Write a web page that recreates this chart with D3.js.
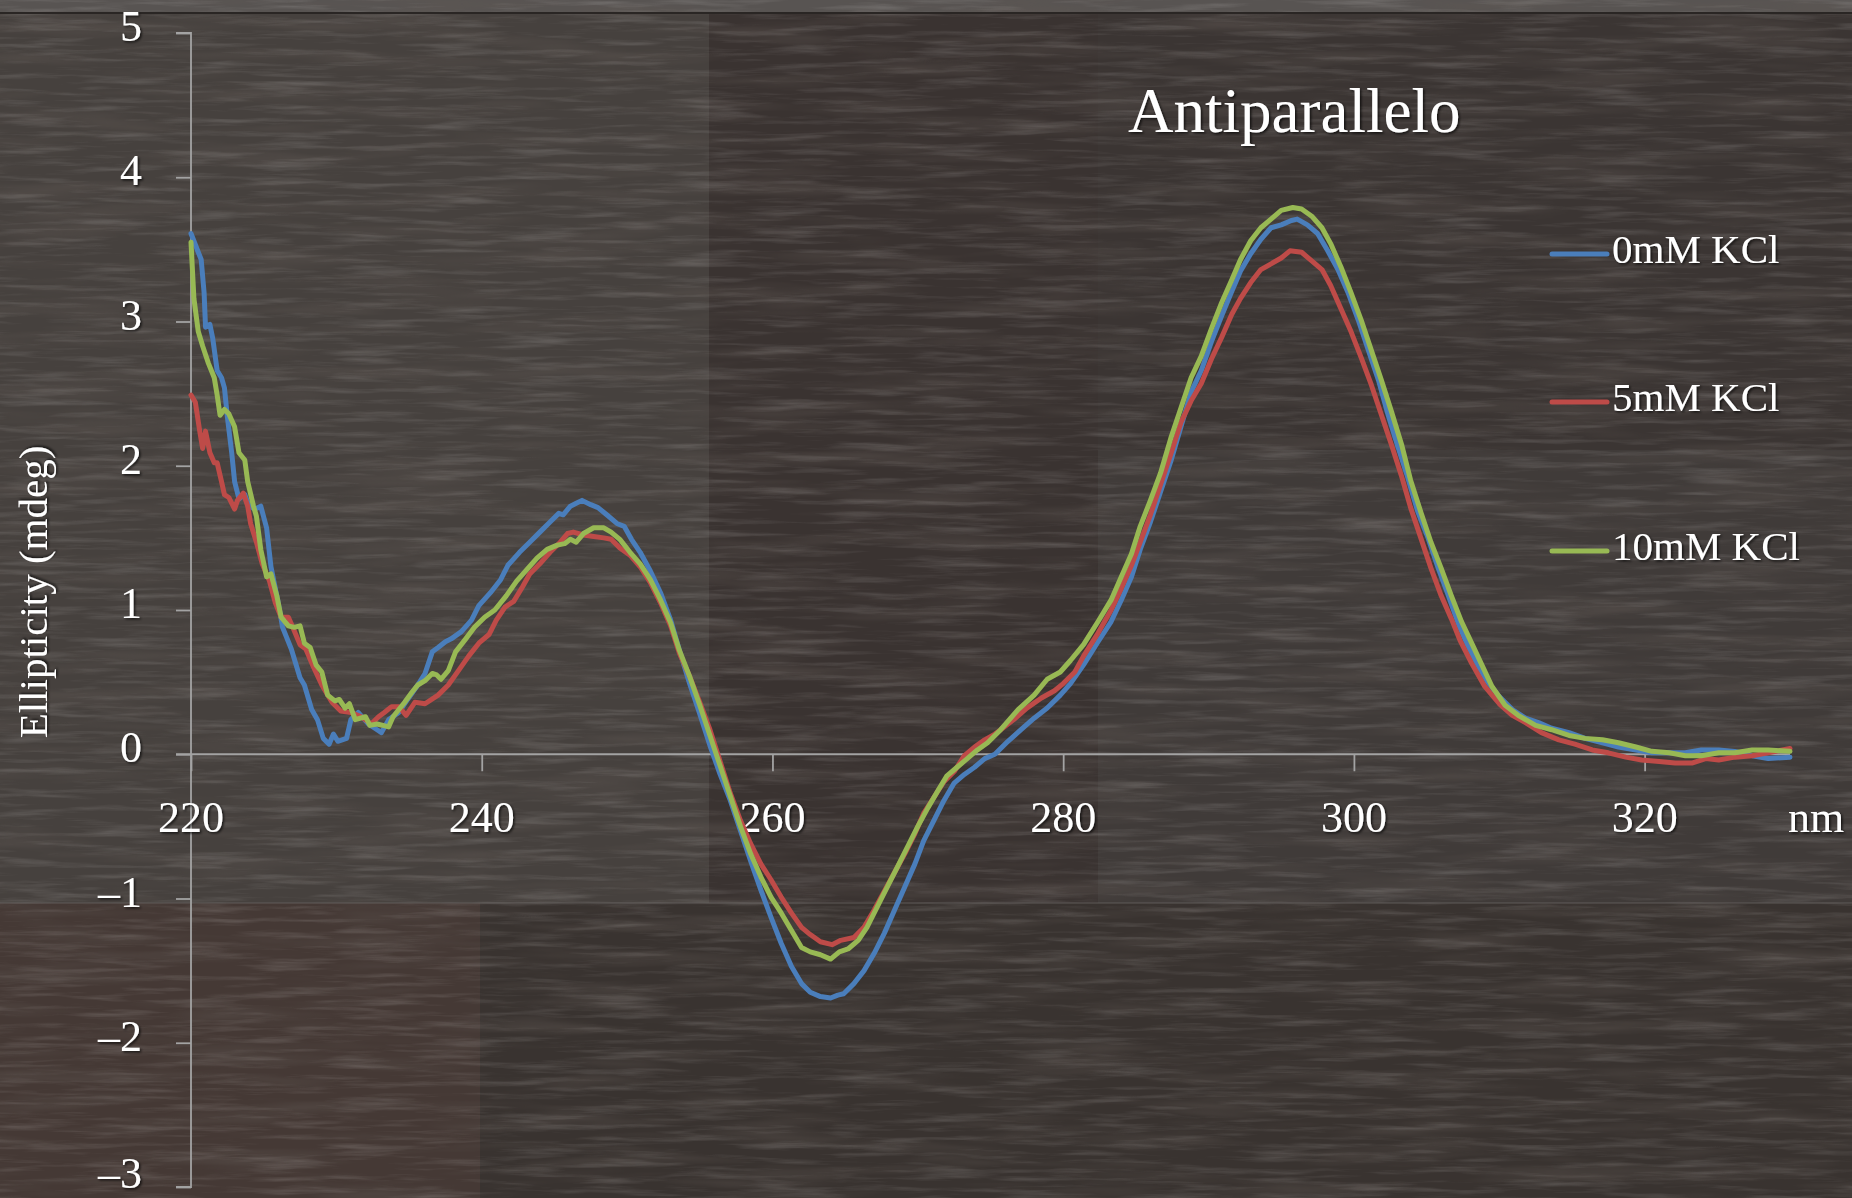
<!DOCTYPE html>
<html>
<head>
<meta charset="utf-8">
<script src="https://cdn.jsdelivr.net/npm/d3@7/dist/d3.min.js"></script>
<style>
  html, body { margin: 0; padding: 0; background: #3e3936; }
  svg { display: block; }
  text { font-family: "Liberation Serif", "DejaVu Serif", serif; fill: #ffffff; }
</style>
</head>
<body>
<svg id="chart" width="1852" height="1198"></svg>
<script>
// ---------------- DATA ----------------
const title = "Antiparallelo";
const yTitle = "Ellipticity (mdeg)";
const xUnit = "nm";
const xTicks = [220, 240, 260, 280, 300, 320];
const yTicks = [-3, -2, -1, 0, 1, 2, 3, 4, 5];
const seriesNames = ["0mM KCl", "5mM KCl", "10mM KCl"];
const seriesColors = ["#4A7EBB", "#BE4B48", "#98B954"];

// [wavelength nm, ellipticity mdeg]
const kcl0 = [
[220.0,3.61],[220.5,3.48],[220.7,3.43],[220.9,3.20],[221.0,2.96],[221.3,2.98],[221.5,2.88],[221.8,2.66],
[222.1,2.61],[222.3,2.54],[222.5,2.34],[222.8,2.09],[223.0,1.89],[223.3,1.77],[223.7,1.80],[224.0,1.72],
[224.4,1.70],[224.8,1.72],[225.2,1.57],[225.5,1.30],[226.0,1.05],[226.3,0.88],[226.9,0.73],[227.5,0.53],
[227.8,0.48],[228.3,0.31],[228.7,0.24],[229.1,0.11],[229.5,0.07],[229.8,0.14],[230.1,0.09],[230.7,0.11],
[231.0,0.24],[231.5,0.29],[232.2,0.21],[232.8,0.17],[233.1,0.15],[233.6,0.24],[234.3,0.29],[234.9,0.38],
[235.6,0.48],[236.1,0.56],[236.6,0.71],[237.0,0.74],[237.5,0.78],[237.9,0.80],[238.6,0.85],[239.3,0.93],
[239.8,1.03],[240.6,1.12],[241.3,1.21],[241.8,1.31],[242.6,1.40],[243.3,1.47],[244.0,1.54],[244.7,1.61],
[245.3,1.67],[245.6,1.66],[246.1,1.72],[246.5,1.74],[246.9,1.76],[247.5,1.73],[248.0,1.71],[248.6,1.66],
[249.3,1.60],[249.8,1.58],[250.3,1.49],[250.9,1.40],[251.6,1.27],[252.3,1.12],[253.0,0.93],[253.6,0.72],
[254.3,0.49],[255.0,0.28],[255.7,0.06],[256.4,-0.14],[257.1,-0.32],[257.8,-0.53],[258.5,-0.74],[259.2,-0.94],
[259.9,-1.13],[260.6,-1.31],[261.3,-1.47],[262.0,-1.59],[262.6,-1.65],[263.3,-1.68],[264.0,-1.69],[264.5,-1.67],
[264.9,-1.66],[265.6,-1.59],[266.3,-1.50],[267.0,-1.38],[267.7,-1.24],[268.4,-1.08],[269.1,-0.92],[269.8,-0.76],
[270.4,-0.60],[271.1,-0.46],[271.8,-0.32],[272.5,-0.20],[273.2,-0.14],[273.9,-0.09],[274.6,-0.03],[275.3,0.00],
[276.2,0.09],[277.1,0.17],[278.0,0.25],[278.9,0.32],[279.8,0.41],[280.5,0.49],[281.4,0.62],[282.4,0.78],
[283.3,0.92],[284.0,1.07],[284.7,1.23],[285.3,1.42],[286.0,1.61],[286.7,1.82],[287.4,2.03],[288.1,2.27],
[288.8,2.51],[289.5,2.66],[290.2,2.86],[290.9,3.04],[291.6,3.21],[292.2,3.35],[292.9,3.47],[293.6,3.57],
[294.3,3.65],[295.0,3.67],[295.7,3.70],[296.1,3.71],[296.8,3.67],[297.5,3.61],[298.2,3.49],[298.9,3.36],
[299.6,3.20],[300.3,3.01],[301.0,2.80],[301.7,2.59],[302.3,2.37],[303.0,2.14],[303.7,1.92],[304.4,1.68],
[305.1,1.50],[305.8,1.29],[306.5,1.10],[307.2,0.90],[307.8,0.76],[308.5,0.62],[309.2,0.50],[310.0,0.40],
[310.9,0.31],[311.8,0.25],[312.7,0.22],[313.6,0.18],[314.8,0.15],[315.9,0.11],[317.1,0.08],[318.2,0.05],
[319.4,0.03],[320.5,0.01],[321.7,0.01],[322.8,0.01],[323.9,0.03],[325.1,0.03],[326.2,0.02],[327.4,-0.01],
[328.5,-0.03],[330.0,-0.02]
];

const kcl5 = [
[220.0,2.49],[220.3,2.44],[220.6,2.24],[220.8,2.12],[221.0,2.24],[221.3,2.09],[221.6,2.02],[221.8,2.02],
[222.1,1.89],[222.3,1.80],[222.6,1.78],[223.0,1.70],[223.2,1.76],[223.6,1.81],[223.9,1.72],[224.1,1.60],
[224.5,1.47],[224.9,1.32],[225.4,1.20],[225.8,1.05],[226.2,0.95],[226.7,0.95],[227.0,0.88],[227.5,0.76],
[227.9,0.73],[228.4,0.61],[229.0,0.48],[229.7,0.36],[230.3,0.30],[231.0,0.29],[231.7,0.26],[232.4,0.21],
[232.9,0.26],[233.3,0.29],[233.8,0.33],[234.3,0.33],[234.8,0.27],[235.4,0.36],[236.1,0.35],[237.0,0.41],
[237.7,0.48],[238.4,0.58],[239.1,0.68],[239.8,0.77],[240.5,0.83],[241.0,0.93],[241.6,1.02],[242.2,1.06],
[242.8,1.16],[243.3,1.25],[244.0,1.32],[244.7,1.40],[245.4,1.47],[245.9,1.53],[246.3,1.54],[247.0,1.52],
[247.7,1.51],[248.4,1.50],[248.9,1.49],[249.5,1.43],[250.2,1.38],[250.9,1.30],[251.6,1.19],[252.3,1.05],
[253.0,0.89],[253.6,0.70],[254.3,0.54],[255.0,0.36],[255.7,0.17],[256.4,-0.05],[257.1,-0.27],[257.8,-0.46],
[258.5,-0.62],[259.2,-0.76],[259.9,-0.87],[260.6,-0.99],[261.3,-1.10],[262.0,-1.20],[262.6,-1.25],[263.3,-1.30],
[264.1,-1.32],[264.7,-1.29],[265.6,-1.27],[266.3,-1.20],[267.0,-1.08],[267.7,-0.95],[268.4,-0.82],[269.1,-0.69],
[269.8,-0.55],[270.4,-0.41],[271.1,-0.30],[271.8,-0.19],[272.5,-0.12],[273.2,-0.01],[273.9,0.05],[274.6,0.10],
[275.3,0.14],[275.7,0.17],[276.6,0.24],[277.5,0.32],[278.5,0.39],[279.4,0.44],[280.0,0.49],[280.8,0.57],
[281.4,0.68],[282.4,0.84],[283.3,1.00],[284.0,1.15],[284.7,1.31],[285.3,1.47],[286.0,1.66],[286.7,1.87],
[287.4,2.08],[288.1,2.30],[288.8,2.45],[289.5,2.57],[290.2,2.74],[290.9,2.89],[291.6,3.05],[292.2,3.16],
[292.9,3.27],[293.6,3.36],[294.3,3.40],[295.0,3.44],[295.6,3.49],[296.4,3.48],[297.1,3.42],[297.8,3.36],
[298.4,3.25],[299.1,3.09],[299.8,2.93],[300.5,2.75],[301.2,2.56],[301.9,2.35],[302.6,2.14],[303.3,1.92],
[303.9,1.71],[304.6,1.50],[305.3,1.29],[306.0,1.10],[306.7,0.94],[307.3,0.79],[308.1,0.63],[309.0,0.47],
[310.0,0.35],[310.9,0.27],[311.8,0.22],[312.9,0.15],[314.1,0.10],[315.2,0.07],[316.4,0.03],[317.5,0.01],
[318.7,-0.02],[319.8,-0.04],[321.0,-0.05],[322.1,-0.06],[323.3,-0.06],[324.2,-0.03],[325.1,-0.04],[326.2,-0.02],
[327.4,-0.01],[328.5,0.01],[330.0,0.04]
];

const kcl10 = [
[220.0,3.55],[220.2,3.16],[220.5,2.93],[220.8,2.83],[221.2,2.71],[221.6,2.61],[221.8,2.49],[222.0,2.35],
[222.3,2.39],[222.6,2.36],[223.0,2.27],[223.3,2.09],[223.7,2.04],[223.9,1.89],[224.3,1.72],[224.5,1.65],
[224.8,1.42],[225.2,1.23],[225.5,1.25],[225.9,1.10],[226.2,0.95],[226.7,0.89],[227.1,0.88],[227.5,0.89],
[227.8,0.77],[228.2,0.74],[228.6,0.62],[229.0,0.57],[229.4,0.41],[229.9,0.37],[230.2,0.38],[230.6,0.32],
[230.9,0.35],[231.3,0.24],[232.0,0.26],[232.3,0.20],[232.8,0.21],[233.2,0.20],[233.6,0.19],[233.9,0.26],
[234.3,0.31],[234.7,0.36],[235.2,0.43],[235.6,0.48],[236.1,0.51],[236.6,0.56],[236.9,0.55],[237.2,0.52],
[237.7,0.58],[238.2,0.71],[238.9,0.80],[239.5,0.88],[240.2,0.95],[240.9,1.00],[241.7,1.10],[242.4,1.20],
[243.1,1.28],[243.8,1.36],[244.5,1.42],[245.2,1.45],[245.7,1.46],[246.1,1.49],[246.5,1.47],[247.0,1.53],
[247.7,1.57],[248.4,1.57],[248.9,1.54],[249.5,1.49],[250.2,1.40],[250.9,1.32],[251.6,1.21],[252.3,1.07],
[253.0,0.91],[253.6,0.72],[254.3,0.54],[255.0,0.34],[255.7,0.13],[256.4,-0.08],[257.1,-0.29],[257.8,-0.50],
[258.5,-0.69],[259.2,-0.85],[259.9,-0.99],[260.6,-1.10],[261.3,-1.22],[262.0,-1.34],[262.6,-1.37],[263.3,-1.39],
[264.0,-1.42],[264.6,-1.37],[265.2,-1.35],[265.9,-1.29],[266.5,-1.20],[267.2,-1.06],[267.9,-0.92],[268.6,-0.78],
[269.3,-0.64],[270.0,-0.50],[270.7,-0.37],[271.4,-0.25],[272.0,-0.15],[272.7,-0.09],[273.4,-0.03],[274.1,0.03],
[274.8,0.08],[275.7,0.17],[276.9,0.31],[278.0,0.41],[278.9,0.52],[279.8,0.57],[280.5,0.65],[281.4,0.76],
[282.4,0.92],[283.3,1.07],[284.0,1.23],[284.7,1.39],[285.3,1.58],[286.0,1.76],[286.7,1.95],[287.4,2.19],
[288.1,2.40],[288.8,2.61],[289.5,2.76],[290.2,2.95],[290.9,3.13],[291.6,3.29],[292.2,3.43],[292.9,3.56],
[293.6,3.65],[294.3,3.71],[295.0,3.77],[295.8,3.79],[296.4,3.78],[297.1,3.73],[297.8,3.65],[298.4,3.54],
[299.1,3.38],[299.8,3.20],[300.5,3.01],[301.2,2.80],[301.9,2.59],[302.6,2.37],[303.3,2.14],[303.9,1.90],
[304.6,1.68],[305.3,1.47],[306.0,1.29],[306.7,1.10],[307.4,0.92],[308.1,0.77],[308.8,0.62],[309.5,0.47],
[310.4,0.34],[311.3,0.27],[312.5,0.20],[313.6,0.17],[314.8,0.13],[315.9,0.11],[317.1,0.10],[318.2,0.08],
[319.4,0.05],[320.5,0.02],[321.7,0.01],[322.8,-0.01],[323.9,-0.01],[325.1,0.01],[326.2,0.01],[327.4,0.03],
[328.5,0.03],[330.0,0.02]
];

const seriesData = [kcl0, kcl5, kcl10];

// ---------------- DRAW ----------------
const W = 1852, H = 1198;
const svg = d3.select("#chart");
const defs = svg.append("defs");

// fine wood-grain texture (light flecks)
const grain = defs.append("filter").attr("id", "grain")
  .attr("x", 0).attr("y", 0).attr("width", W).attr("height", H)
  .attr("filterUnits", "userSpaceOnUse");
grain.append("feTurbulence").attr("type", "fractalNoise")
  .attr("baseFrequency", "0.012 0.16").attr("numOctaves", 4).attr("seed", 7);
grain.append("feColorMatrix").attr("type", "matrix")
  .attr("values", "0 0 0 0 0.82  0 0 0 0 0.80  0 0 0 0 0.79  2.2 0 0 0 -1.05");

// darker broad streaks
const grain2 = defs.append("filter").attr("id", "grain2")
  .attr("x", 0).attr("y", 0).attr("width", W).attr("height", H)
  .attr("filterUnits", "userSpaceOnUse");
grain2.append("feTurbulence").attr("type", "fractalNoise")
  .attr("baseFrequency", "0.006 0.06").attr("numOctaves", 3).attr("seed", 2);
grain2.append("feColorMatrix").attr("type", "matrix")
  .attr("values", "0 0 0 0 0.12  0 0 0 0 0.10  0 0 0 0 0.09  2.0 0 0 0 -0.9");

const shadow = defs.append("filter").attr("id", "tshadow")
  .attr("x", "-10%").attr("y", "-20%").attr("width", "130%").attr("height", "150%");
shadow.append("feDropShadow").attr("dx", 1.5).attr("dy", 1.5).attr("stdDeviation", 1.2)
  .attr("flood-color", "#000").attr("flood-opacity", 0.7);

// background planks
const bg = svg.append("g");
bg.append("rect").attr("width", W).attr("height", H).attr("fill", "#3d3835");
const planks = [
  {x: 0, y: 0, w: 709, h: 903, c: "#46413e"},
  {x: 709, y: 0, w: 389, h: 903, c: "#3a3331"},
  {x: 1098, y: 0, w: 754, h: 450, c: "#3b3533"},
  {x: 1098, y: 450, w: 754, h: 453, c: "#403b39"},
  {x: 0, y: 903, w: 480, h: 295, c: "#453935"},
  {x: 480, y: 903, w: 1372, h: 295, c: "#393330"},
  {x: 0, y: 0, w: W, h: 12, c: "#585452"}
];
bg.selectAll("rect.plank").data(planks).join("rect").attr("class", "plank")
  .attr("x", d => d.x).attr("y", d => d.y).attr("width", d => d.w).attr("height", d => d.h)
  .attr("fill", d => d.c);
bg.append("rect").attr("width", W).attr("height", H).attr("filter", "url(#grain2)").attr("opacity", 0.45);
bg.append("rect").attr("width", W).attr("height", H).attr("filter", "url(#grain)").attr("opacity", 0.17);
bg.append("line").attr("x1", 0).attr("x2", W).attr("y1", 903).attr("y2", 903)
  .attr("stroke", "#6a6664").attr("stroke-width", 1.5).attr("opacity", 0.5);
bg.append("line").attr("x1", 0).attr("x2", W).attr("y1", 13).attr("y2", 13)
  .attr("stroke", "#2a2624").attr("stroke-width", 2);

// scales
const x = d3.scaleLinear().domain([220, 330]).range([191, 1790]);
const y = d3.scaleLinear().domain([-3, 5]).range([1187, 33]);
const axisColor = "#a3a3a3";

// Y axis
const yAxis = svg.append("g").attr("transform", `translate(${x(220)},0)`)
  .call(d3.axisLeft(y).tickValues(yTicks).tickSize(15).tickFormat(""));
yAxis.select(".domain").attr("stroke", axisColor).attr("stroke-width", 1.8)
  .attr("d", `M-15,${y(5)}H0V${y(-3)}H-15`);
yAxis.selectAll(".tick line").attr("stroke", axisColor).attr("stroke-width", 1.8);

svg.append("g").selectAll("text.ylab").data(yTicks).join("text").attr("class", "ylab")
  .attr("x", 142).attr("y", d => Math.min(y(d) + 8, H - 10))
  .attr("text-anchor", "end").attr("font-size", 44).attr("filter", "url(#tshadow)")
  .text(d => d < 0 ? "\u2013" + Math.abs(d) : d);

// X axis at y=0
const xAxis = svg.append("g").attr("transform", `translate(0,${y(0)})`)
  .call(d3.axisBottom(x).tickValues(xTicks).tickSize(17).tickFormat(""));
xAxis.select(".domain").attr("stroke", axisColor).attr("stroke-width", 1.8)
  .attr("d", `M${x(220) - 15},0H${x(330)}`);
xAxis.selectAll(".tick line").attr("stroke", axisColor).attr("stroke-width", 1.8);

svg.append("g").selectAll("text.xlab").data(xTicks).join("text").attr("class", "xlab")
  .attr("x", d => x(d)).attr("y", y(0) + 78)
  .attr("text-anchor", "middle").attr("font-size", 44).attr("filter", "url(#tshadow)")
  .text(d => d);

svg.append("text").attr("x", 1816).attr("y", y(0) + 78).attr("text-anchor", "middle")
  .attr("font-size", 44).attr("filter", "url(#tshadow)").text(xUnit);

// Y title
svg.append("text").attr("transform", `translate(47,592) rotate(-90)`)
  .attr("text-anchor", "middle").attr("font-size", 41).attr("filter", "url(#tshadow)")
  .text(yTitle);

// title
svg.append("text").attr("x", 1128).attr("y", 132).attr("font-size", 63)
  .attr("filter", "url(#tshadow)").text(title);

// lines
const line = d3.line().x(d => x(d[0])).y(d => y(d[1])).curve(d3.curveLinear);
svg.append("g").selectAll("path.series").data(seriesData).join("path").attr("class", "series")
  .attr("d", line).attr("fill", "none")
  .attr("stroke", (d, i) => seriesColors[i]).attr("stroke-width", 5)
  .attr("stroke-linejoin", "round").attr("stroke-linecap", "round");

// legend
const legendY = [254, 402, 551];
const lg = svg.append("g").selectAll("g").data(seriesNames).join("g")
  .attr("transform", (d, i) => `translate(1552,${legendY[i]})`);
lg.append("line").attr("x1", 0).attr("x2", 55).attr("y1", 0).attr("y2", 0)
  .attr("stroke", (d, i) => seriesColors[i]).attr("stroke-width", 5).attr("stroke-linecap", "round");
lg.append("text").attr("x", 60).attr("y", 9).attr("font-size", 41)
  .attr("filter", "url(#tshadow)").text(d => d);
</script>
</body>
</html>
